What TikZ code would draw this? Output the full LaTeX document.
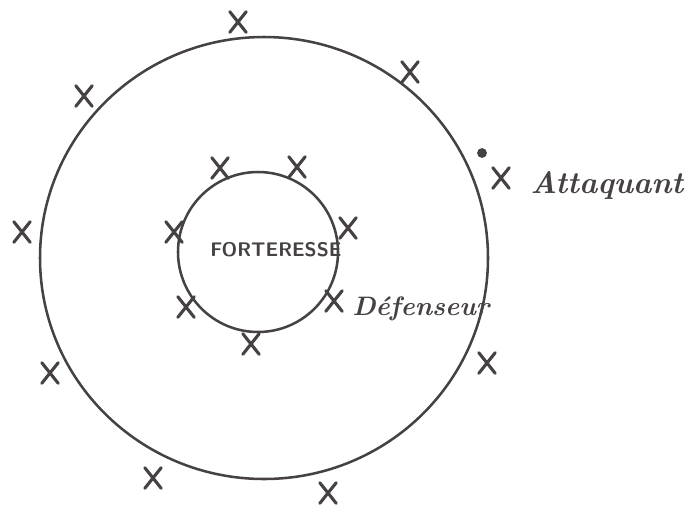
\documentclass[tikz,border=0pt]{standalone}
\usepackage{fontspec}
\usetikzlibrary{shapes.misc}
\definecolor{ink}{HTML}{474242}
\tikzset{ring/.style={draw=ink,line width=1.8pt},
crossmark/.style={cross out,draw=ink,line width=2.2pt,line cap=round,minimum width=9.5pt,minimum height=12.5pt,inner sep=0pt},
handtext/.style={text=ink,inner sep=0pt,font=\itshape}}

\begin{document}
\begin{tikzpicture}[x=.025cm,y=-.025cm]
\useasboundingbox (0,0) rectangle (689,508);
% les deux enceintes
\draw[ring] (264,258) ellipse [x radius=224,y radius=221];
\draw[ring] (258,252) circle [radius=80];
% defenseurs
\foreach \nm/\px/\py in {o1/238/22,o2/84/96,o3/22/232,o4/50/373,o5/153/478,o6/328/493,o7/487/363,o8/410/72,
  i1/220/168,i2/297/167,i3/174/232,i4/348/228,i5/186/307,i6/251/344,i7/334/301}
  \node[crossmark] (\nm) at (\px,\py) {};
% attaquant
\node[circle,fill=ink,inner sep=0pt,minimum size=7pt] (dot) at (482,153) {};
\node[crossmark] (att) at (501,178) {};
\node[handtext,anchor=base west,font=\fontsize{22}{26}\selectfont\bfseries\itshape] (attlab) at (530,193) {Attaquant};
\node[handtext,anchor=base west,font=\fontsize{19}{23}\selectfont\bfseries\itshape] (deflab) at (352,315) {Défenseur};
\node[handtext,anchor=base west,font=\fontsize{14}{17}\selectfont\sffamily\bfseries] (fort) at (210,256) {FORTERESSE};
\end{tikzpicture}
\end{document}
